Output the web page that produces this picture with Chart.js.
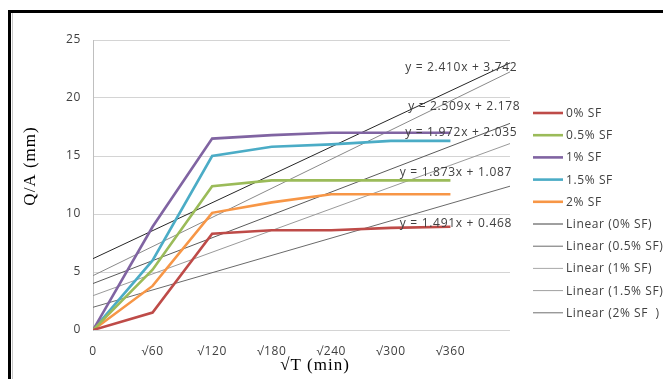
<!DOCTYPE html>
<html>
<head>
<meta charset="utf-8">
<script src="https://cdn.jsdelivr.net/npm/chart.js@4/dist/chart.umd.min.js"></script>
<style>
  html, body { margin: 0; padding: 0; background: #fff; }
  #wrap { width: 663px; height: 379px; position: relative; }
</style>
</head>
<body>
<div id="wrap"><canvas id="qaChart" width="663" height="379"></canvas></div>
<script>
/* ── Data ── */
const categories = ['0', '√60', '√120', '√180', '√240', '√300', '√360'];
const yTicks     = [0, 5, 10, 15, 20, 25];

const seriesNames  = ['0% SF', '0.5% SF', '1% SF', '1.5% SF', '2% SF'];
const sf0          = [0, 1.5, 8.3, 8.6, 8.6, 8.8, 8.9];
const sf05         = [0, 5.2, 12.4, 12.9, 12.9, 12.9, 12.9];
const sf1          = [0, 8.9, 16.5, 16.8, 17.0, 17.0, 17.0];
const sf15         = [0, 6.0, 15.0, 15.8, 16.0, 16.3, 16.3];
const sf2          = [0, 3.8, 10.1, 11.0, 11.7, 11.7, 11.7];

// trendline equations, y = slope*x + intercept (x = 1 at first category)
const trendNames      = ['Linear (0% SF)', 'Linear (0.5% SF)', 'Linear (1% SF)', 'Linear (1.5% SF)', 'Linear (2% SF  )'];
const trendSlopes     = [1.491, 1.972, 2.410, 2.509, 1.873];
const trendIntercepts = [0.468, 2.035, 3.742, 2.178, 1.087];

/* ── Styles ── */
const seriesColors = ['#BE4B48', '#9BBB59', '#8064A2', '#4BACC6', '#F79646'];
const trendColors  = ['#6a6a6a', '#5a5a5a', '#262626', '#8a8a8a', '#9a9a9a'];
const trendLegend  = ['#404040', '#6a6a6a', '#a8a8a8', '#a0a0a0', '#707070'];
const txtColor     = '#404040';
const sansFont     = "'Open Sans', sans-serif";
const serifFont    = "'Liberation Serif', 'DejaVu Serif', serif";

const allSeries = [sf0, sf05, sf1, sf15, sf2];
const lastX = categories.length; // trendlines run one category past the data

const datasets = [];
allSeries.forEach((vals, i) => {
  datasets.push({
    label: seriesNames[i],
    data: vals.map((v, k) => ({ x: k, y: v })),
    borderColor: seriesColors[i],
    borderWidth: 2.6,
    pointRadius: 0,
    tension: 0,
    legendColor: seriesColors[i],
    legendWidth: 2.6
  });
});
trendSlopes.forEach((m, i) => {
  const b = trendIntercepts[i];
  datasets.push({
    label: trendNames[i],
    data: [0, lastX].map(x => ({ x: x, y: m * (x + 1) + b })),
    borderColor: trendColors[i],
    borderWidth: 1,
    pointRadius: 0,
    tension: 0,
    legendColor: trendLegend[i],
    legendWidth: 1,
    eqText: 'y = ' + m.toFixed(3) + 'x + ' + b.toFixed(3)
  });
});

// where the equation labels sit, in data units of the plot
const eqAnchors = [
  { x: 5.15, y: 9.2 },
  { x: 5.24, y: 17.0 },
  { x: 5.24, y: 22.6 },
  { x: 5.29, y: 19.3 },
  { x: 5.15, y: 13.6 }
];

/* ── Extras plugin: frame, titles, equations, legend ── */
const extras = {
  id: 'extras',
  beforeDraw(chart) {
    const c = chart.ctx;
    c.fillStyle = '#fff';
    c.fillRect(0, 0, chart.width, chart.height);
    c.letterSpacing = '0.6px';
  },
  afterDraw(chart) {
    const c = chart.ctx;
    const xs = chart.scales.x, ys = chart.scales.y;
    c.save();

    // outer frame (black top + left, thin grey inner line)
    c.fillStyle = '#000';
    c.fillRect(8, 10, chart.width - 8, 3);
    c.fillRect(8, 10, 3, chart.height - 10);
    c.fillStyle = '#c8c8c8';
    c.fillRect(12, 13, 1, chart.height - 13);

    // axis titles
    c.fillStyle = '#000';
    c.textAlign = 'center';
    c.textBaseline = 'middle';
    c.letterSpacing = '1px';
    c.font = '17px ' + serifFont;
    c.fillText('√T (min)', 315, 366);
    c.save();
    c.translate(31, 166);
    c.rotate(-Math.PI / 2);
    c.fillText('Q/A (mm)', 0, 0);
    c.restore();

    // trendline equations
    c.letterSpacing = '0.7px';
    c.font = '12px ' + sansFont;
    c.fillStyle = txtColor;
    c.textAlign = 'left';
    chart.data.datasets.forEach((ds, i) => {
      if (!ds.eqText) return;
      const a = eqAnchors[i - seriesNames.length];
      c.fillText(ds.eqText, xs.getPixelForValue(a.x), ys.getPixelForValue(a.y));
    });

    // legend
    const lx = 533, ly = 113, step = 22.2;
    c.font = '12px ' + sansFont;
    c.letterSpacing = '0.6px';
    chart.data.datasets.forEach((ds, i) => {
      const y = ly + i * step;
      c.strokeStyle = ds.legendColor;
      c.lineWidth = ds.legendWidth;
      c.beginPath();
      c.moveTo(lx, y);
      c.lineTo(lx + 30, y);
      c.stroke();
      c.fillStyle = txtColor;
      c.fillText(ds.label, lx + 33, y + 0.5);
    });
    c.restore();
    c.letterSpacing = '0px';
  }
};

new Chart(document.getElementById('qaChart'), {
  type: 'line',
  data: { datasets: datasets },
  plugins: [extras],
  options: {
    responsive: false,
    animation: false,
    layout: { padding: { left: 14, right: 153, top: 40, bottom: 0 } },
    plugins: {
      legend: { display: false },
      tooltip: { enabled: false }
    },
    scales: {
      x: {
        type: 'linear',
        min: 0,
        max: lastX,
        afterFit: s => { s.height = 49; },
        afterBuildTicks: s => { s.ticks = categories.map((_, k) => ({ value: k })); },
        grid: { display: false, drawTicks: false },
        border: { display: false },
        ticks: {
          color: txtColor,
          padding: 14,
          maxRotation: 0,
          autoSkip: false,
          font: { size: 12, family: sansFont },
          callback: v => categories[v] ?? ''
        }
      },
      y: {
        min: 0,
        max: 25,
        afterFit: s => { s.width = 79; },
        afterBuildTicks: s => { s.ticks = yTicks.map(v => ({ value: v })); },
        grid: { color: '#d4d4d4', lineWidth: 1, drawTicks: false },
        border: { display: true, color: '#bfbfbf' },
        ticks: {
          color: txtColor,
          padding: 12,
          font: { size: 12, family: sansFont }
        }
      }
    }
  }
});
</script>
</body>
</html>
